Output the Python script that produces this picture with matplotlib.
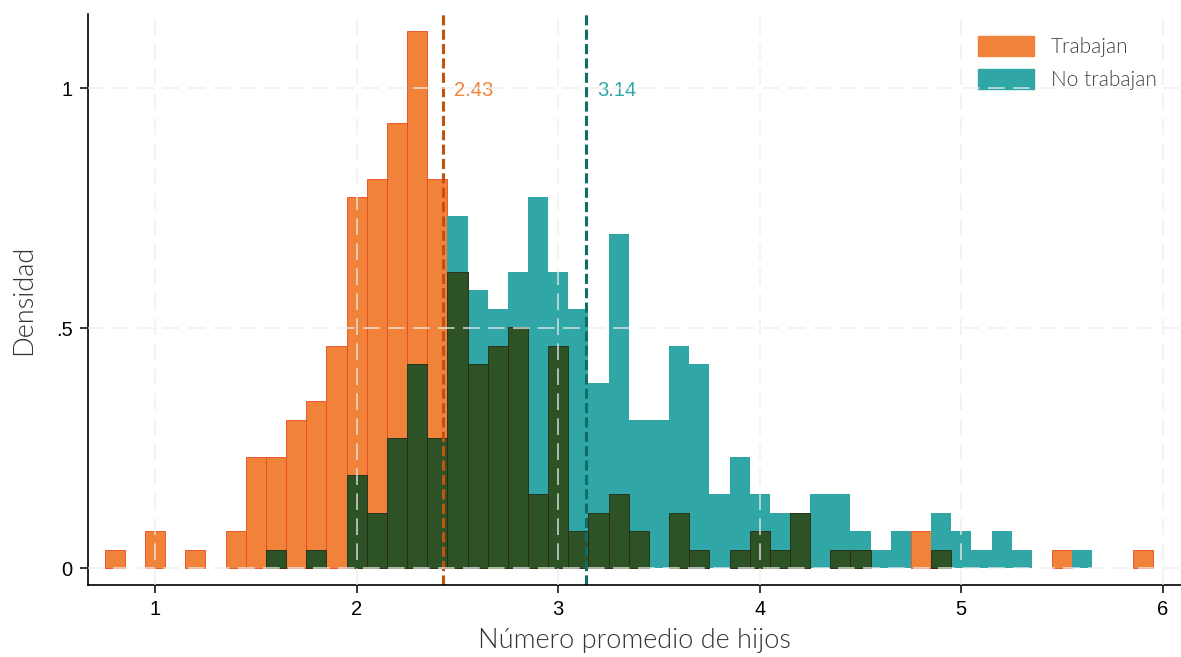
import numpy as np
import matplotlib.pyplot as plt
from matplotlib.patches import Patch

plt.rcParams['font.family'] = ['Liberation Sans', 'DejaVu Sans']

# bin centres (width 0.1) and counts
centers = np.round(np.arange(0.8, 5.95, 0.1), 2)
trabajan = [1, 0, 2, 0, 1, 0, 2, 6, 6, 8,
            9, 12, 20, 21, 24, 29, 21, 16, 11, 12,
            13, 4, 12, 2, 3, 4, 2, 0, 3, 1,
            0, 1, 2, 1, 3, 0, 1, 1, 0, 0,
            2, 1, 0, 0, 0, 0, 0, 1, 0, 0,
            0, 1]
no_trabajan = [0, 0, 0, 0, 0, 0, 0, 0, 1, 0,
               1, 0, 5, 3, 7, 11, 7, 19, 15, 14,
               16, 20, 16, 14, 10, 18, 8, 8, 12, 11,
               4, 6, 4, 3, 3, 4, 4, 2, 1, 2,
               0, 3, 2, 1, 2, 1, 0, 0, 1, 0,
               0, 0]
means = [2.43, 3.14]
labels = ['Trabajan', 'No trabajan']

width = 0.1
d_trab = np.array(trabajan) / (sum(trabajan) * width)
d_notrab = np.array(no_trabajan) / (sum(no_trabajan) * width)
d_both = np.minimum(d_trab, d_notrab)

c_orange = '#f0823a'
c_teal = '#31a6a6'
c_green = '#2d5226'
c_orange_d = '#c4520f'
c_teal_d = '#0f6e68'

fig = plt.figure(figsize=(11.81, 6.57), dpi=100)
ax = fig.add_axes([0.0745, 0.1096, 0.9255, 0.869])


def bars(d, z, **kw):
    m = d > 0
    ax.bar(centers[m], d[m], width=width, zorder=z, **kw)


bars(d_trab, 0.5, color=c_orange, edgecolor='#e8481c', lw=0.6)
bars(d_notrab, 0.6, color=c_teal, lw=0)
bars(d_both, 0.7, color=c_green, edgecolor='#2a2812', lw=0.6)

for m, c, tc in zip(means, [c_orange_d, c_teal_d], [c_orange, c_teal]):
    ax.axvline(m, color=c, lw=2.2, ls=(0, (3.3, 1.4)), zorder=1)
    ax.text(m + 0.055, 0.995, f'{m:.2f}', color=tc, fontsize=14.5, va='center',
            zorder=1)

ax.set_xlim(0.667, 6.09)
ax.set_ylim(-0.035, 1.154)
ax.set_xticks([1, 2, 3, 4, 5, 6])
ax.set_yticks([0, 0.5, 1])
ax.set_yticklabels(['0', '.5', '1'])
ax.tick_params(labelsize=14.5, length=6, width=1.1, pad=5)

ax.set_axisbelow(False)
ax.grid(color='#eeeeee', alpha=0.8, lw=1.2, ls=(0, (10, 5)))

for s in ['top', 'right']:
    ax.spines[s].set_visible(False)
for s in ['left', 'bottom']:
    ax.spines[s].set_linewidth(1.2)

ax.set_xlabel('Número promedio de hijos', family='Lato', fontweight=300,
              fontsize=19.5, color='#333333', labelpad=6)
ax.set_ylabel('Densidad', family='Lato', fontweight=300,
              fontsize=19.5, color='#333333', labelpad=14)

handles = [Patch(color=c_orange), Patch(color=c_teal)]
leg = ax.legend(handles, labels, loc='upper right', bbox_to_anchor=(0.995, 0.995),
                frameon=False, prop={'family': 'Lato', 'weight': 300, 'size': 15},
                labelcolor='#444444',
                handlelength=2.7, handleheight=1.1, labelspacing=0.6, handletextpad=0.8)
leg.set_zorder(0.4)

fig.savefig('out.png', dpi=100)
